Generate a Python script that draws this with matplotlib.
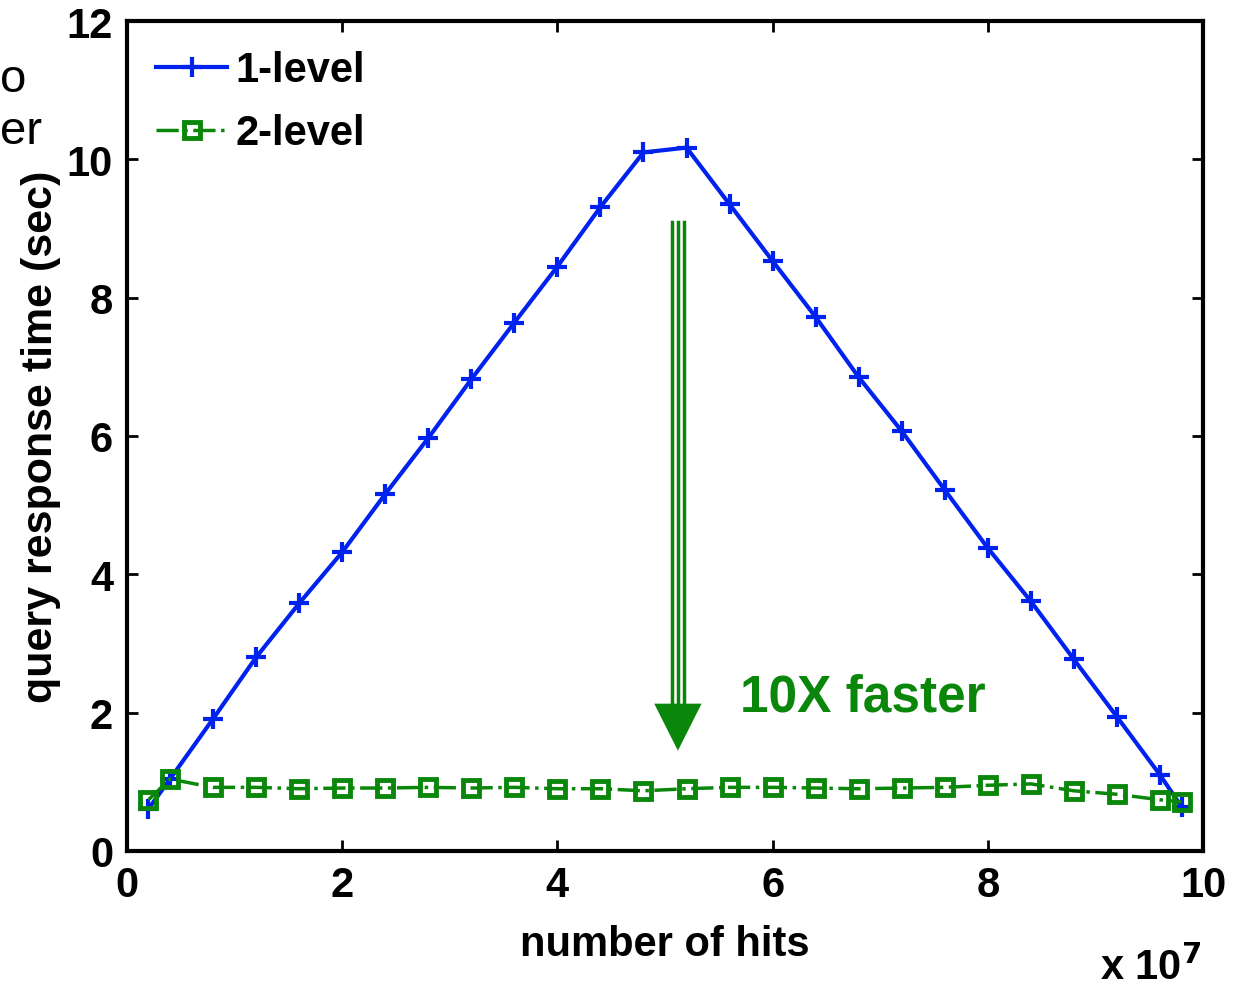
import matplotlib.pyplot as plt
import numpy as np

# hits (x 1e7)
hits = [0.2, 0.4, 0.8, 1.2, 1.6, 2.0, 2.4, 2.8, 3.2, 3.6, 4.0, 4.4, 4.8,
        5.2, 5.6, 6.0, 6.4, 6.8, 7.2, 7.6, 8.0, 8.4, 8.8, 9.2, 9.6, 9.8]
one_level = [0.61, 1.04, 1.91, 2.80, 3.58, 4.32, 5.16, 5.97, 6.82, 7.64, 8.45, 9.31, 10.10,
             10.17, 9.35, 8.53, 7.72, 6.85, 6.07, 5.22, 4.38, 3.61, 2.77, 1.94, 1.10, 0.64]
two_level = [0.74, 1.04, 0.92, 0.92, 0.90, 0.91, 0.91, 0.92, 0.91, 0.92, 0.90, 0.90, 0.87,
             0.90, 0.92, 0.92, 0.91, 0.90, 0.91, 0.92, 0.95, 0.97, 0.87, 0.82, 0.74, 0.71]

plt.rcParams['font.family'] = ['Liberation Sans', 'DejaVu Sans']
plt.rcParams['font.weight'] = 'bold'
plt.rcParams['axes.labelweight'] = 'bold'

green = '#0a870a'

fig = plt.figure(figsize=(12.41, 9.87), dpi=100)
ax = fig.add_axes([0.1023, 0.1368, 0.8671, 0.8409])

ax.plot(hits, one_level, color='#0022ee', lw=3, marker='+', ms=14, mew=3, label='1-level')
ax.plot(hits, two_level, color=green, lw=2.5, ls='-.', marker='s', ms=12,
        mew=3.5, mfc='none', label='2-level')

ax.set_xlim(0, 10)
ax.set_ylim(0, 12)
ax.set_xticks([0, 2, 4, 6, 8, 10])
ax.set_yticks([0, 2, 4, 6, 8, 10, 12])
ax.tick_params(direction='in', length=8, width=2, labelsize=30, top=True, right=True, pad=10)
for s in ax.spines.values():
    s.set_linewidth(3)

ax.set_xlabel('number of hits', fontsize=30, labelpad=14)
ax.set_ylabel('query response time (sec)', fontsize=31, labelpad=4)
fig.text(1100 / 1241, 1 - 968 / 987, r'x 10$^{7}$', fontsize=30, va='center', ha='left')

ax.legend(loc='upper left', frameon=False, fontsize=30, handlelength=1.7,
          handletextpad=0.2, borderaxespad=0.3, labelspacing=0.55)

# 10X faster arrow
xa = 5.12
for dx in (-0.055, 0, 0.055):
    ax.plot([xa + dx, xa + dx], [9.1, 2.13], color=green, lw=2.5)
ax.fill([xa - 0.22, xa + 0.22, xa], [2.13, 2.13, 1.45], color=green, lw=0)
ax.text(5.7, 2.22, '10X faster', color=green, fontsize=37, va='center', ha='left')

# slide text cut off at the left edge
fig.text(0, 1 - 80 / 987, 'o', fontsize=34, weight='normal', ha='left', va='center')
fig.text(0, 1 - 132 / 987, 'er', fontsize=34, weight='normal', ha='left', va='center')

fig.savefig('out.png', dpi=100)
